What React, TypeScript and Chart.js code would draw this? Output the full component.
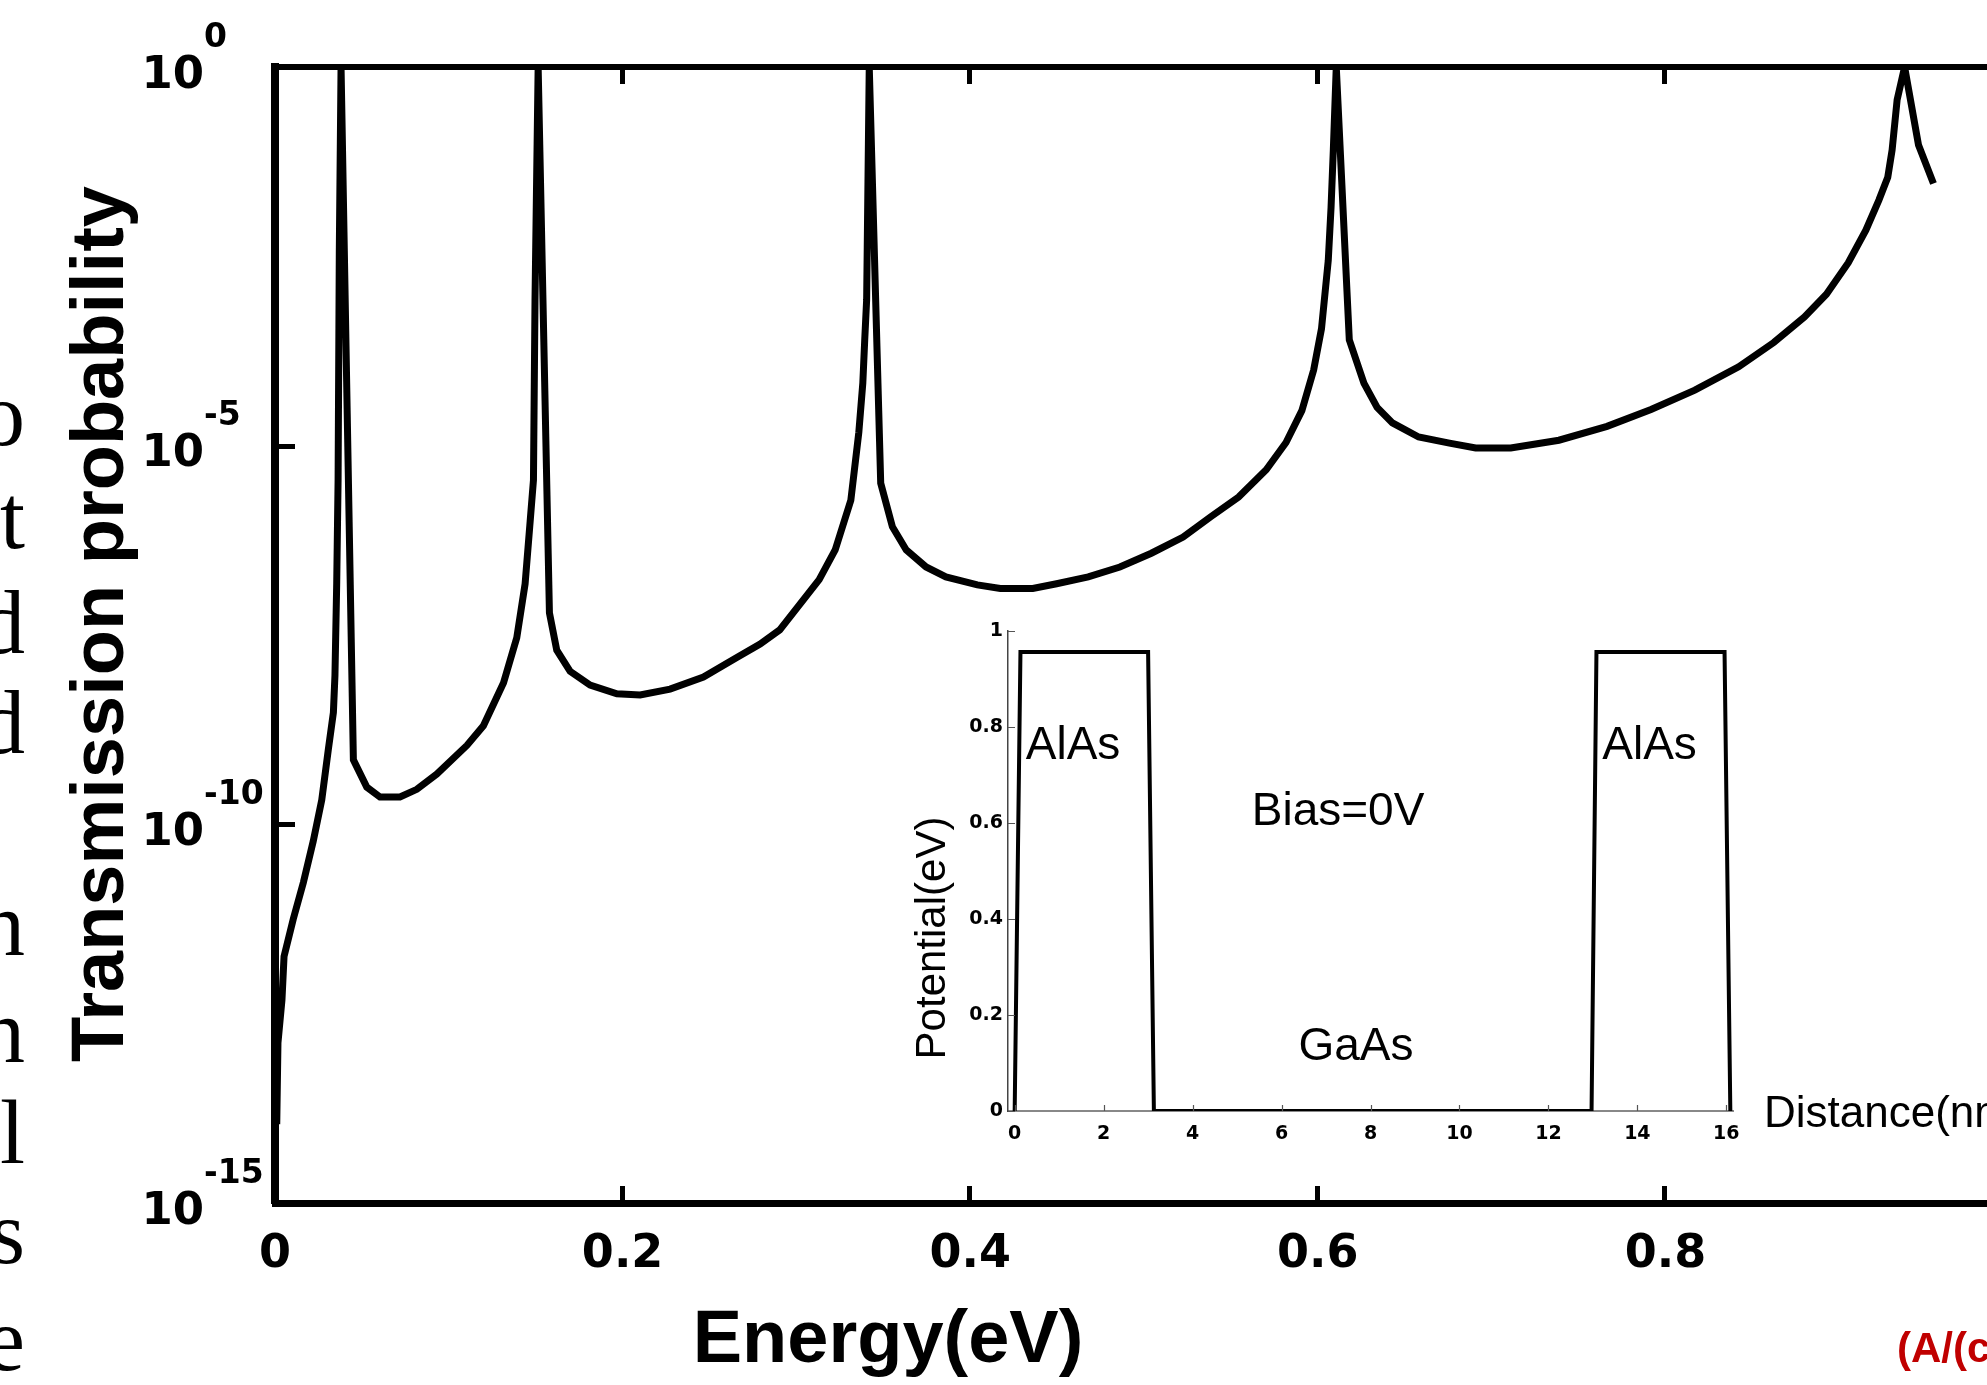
import React, { useEffect, useRef } from 'react';
import { Chart, registerables } from 'chart.js';

Chart.register(...registerables);

// Transmission probability of an AlAs/GaAs/AlAs double barrier at zero bias
const energyEV = [
  0.0010, 0.0017, 0.0040, 0.0052, 0.0105, 0.0163, 0.0220, 0.0269, 0.0307, 0.0336,
  0.0345, 0.0355, 0.0363, 0.0370, 0.0380, 0.0451,
  0.0528, 0.0604, 0.0719, 0.0816, 0.0931, 0.1104, 0.1199, 0.1315, 0.1391, 0.1439,
  0.1468, 0.1487, 0.1496, 0.1514, 0.1579,
  0.1621, 0.1698, 0.1813, 0.1967, 0.2101, 0.2273, 0.2465, 0.2657, 0.2791, 0.2904,
  0.3131, 0.3223, 0.3313, 0.3359, 0.3382, 0.3393, 0.3404, 0.3419, 0.3485,
  0.3552, 0.3632, 0.3746, 0.3860, 0.4041, 0.4173, 0.4360, 0.4497, 0.4679, 0.4861,
  0.5042, 0.5225, 0.5384, 0.5544, 0.5703, 0.5817, 0.5908, 0.5976, 0.6021, 0.6060,
  0.6076, 0.6089, 0.6106, 0.6181,
  0.6265, 0.6341, 0.6429, 0.6580, 0.6757, 0.6908, 0.7110, 0.7387, 0.7664, 0.7917,
  0.8169, 0.8421, 0.8623, 0.8800, 0.8926, 0.9052, 0.9153, 0.9228, 0.9279, 0.9304,
  0.9333, 0.9376, 0.9456, 0.9542,
];
const transmission = [
  1.1e-14, 1.3e-13, 4.8e-13, 1.8e-12, 5.6e-12, 1.7e-11, 6.0e-11, 2.1e-10, 9.8e-10, 3.0e-9,
  9.3e-9, 1.5e-7, 3.5e-6, 3.8e-3, 1, 7.1e-10,
  3.1e-10, 2.3e-10, 2.3e-10, 2.9e-10, 4.6e-10, 1.1e-9, 2.0e-9, 7.4e-9, 2.9e-8, 1.5e-7,
  1.0e-6, 3.5e-6, 8.4e-4, 1, 6.2e-8,
  2.0e-8, 1.05e-8, 6.9e-9, 5.3e-9, 5.1e-9, 6.1e-9, 8.8e-9, 1.6e-8, 2.4e-8, 3.7e-8,
  1.7e-7, 4.2e-7, 1.9e-6, 1.5e-5, 6.7e-5, 2.5e-4, 8.4e-4, 1, 3.2e-6,
  8.5e-7, 4.2e-7, 2.5e-7, 1.85e-7, 1.45e-7, 1.3e-7, 1.3e-7, 1.5e-7, 1.85e-7, 2.5e-7,
  3.8e-7, 6.2e-7, 1.15e-6, 2.1e-6, 4.8e-6, 1.1e-5, 2.9e-5, 1.0e-4, 3.5e-4, 2.8e-3,
  1.4e-2, 8.0e-2, 1, 2.5e-4,
  6.7e-5, 3.2e-5, 2.0e-5, 1.3e-5, 1.08e-5, 9.3e-6, 9.3e-6, 1.18e-5, 1.8e-5, 3.0e-5,
  5.4e-5, 1.1e-4, 2.3e-4, 5.0e-4, 1.0e-3, 2.6e-3, 7.0e-3, 1.75e-2, 3.5e-2, 8.0e-2,
  0.37, 1, 9.3e-2, 2.9e-2,
];
const energyTicks = [0, 0.2, 0.4, 0.6, 0.8];
const transmissionDecades = [1e-15, 1e-10, 1e-5, 1];
const energyMin = 0;
const energyMax = 0.985;

// Conduction-band profile (inset)
const distanceNm = [0, 0.13, 3.0, 3.13, 12.97, 13.08, 15.96, 16.09];
const potentialEV = [0, 0.956, 0.956, 0, 0, 0.956, 0.956, 0];
const distanceTicks = [0, 2, 4, 6, 8, 10, 12, 14, 16];
const potentialTicks = [0, 0.2, 0.4, 0.6, 0.8, 1];
const layerNames = ['AlAs', 'Bias=0V', 'AlAs', 'GaAs'];
const layerNameX = [0.25, 5.33, 13.21, 6.38];
const layerNameY = [0.733, 0.596, 0.733, 0.106];

// Right-hand ends of the neighbouring text column
const marginLetters = ['o', 't', 'd', 'd', 'n', 'n', 'l', 's', 'e'];
const marginBaselines = [445, 548, 653, 753, 955, 1062, 1163, 1263, 1370];

const W = 1987;
const H = 1385;
const BOLD_TICK = "'DejaVu Sans', Verdana, sans-serif";
const SANS = "'Liberation Sans', Arial, sans-serif";

const mainDecor = {
  id: 'mainDecor',
  afterDraw(chart: any) {
    const { ctx, chartArea: a, scales } = chart;
    const x = scales.x;
    const y = scales.y;
    ctx.save();
    ctx.fillStyle = '#000';
    // upper frame line
    ctx.fillRect(a.left - 4, a.top - 3, a.right - a.left + 4, 6);
    // inward tick marks
    energyTicks.forEach((v) => {
      if (v <= x.min) return;
      const px = Math.round(x.getPixelForValue(v));
      ctx.fillRect(px - 3, a.top, 5, 17);
      ctx.fillRect(px - 3, a.bottom - 17, 5, 17);
    });
    transmissionDecades.forEach((v) => {
      if (v <= y.min || v >= y.max) return;
      const py = Math.round(y.getPixelForValue(v));
      ctx.fillRect(a.left, py - 2, 20, 5);
    });
    // decade exponents next to the "10" labels
    ctx.font = `bold 33px ${BOLD_TICK}`;
    ctx.textAlign = 'left';
    ctx.textBaseline = 'middle';
    transmissionDecades.forEach((v) => {
      const py = y.getPixelForValue(v);
      ctx.fillText(String(Math.round(Math.log10(v))), a.left - 71, py - 29);
    });
    // axis titles
    ctx.font = `bold 74px ${SANS}`;
    ctx.textAlign = 'center';
    ctx.textBaseline = 'alphabetic';
    ctx.fillText('Energy(eV)', 888, 1362);
    ctx.save();
    ctx.translate(123, 624);
    ctx.rotate(-Math.PI / 2);
    ctx.fillText('Transmission probability', 0, 0);
    ctx.restore();
    // unit caption at the lower right
    ctx.fillStyle = '#c00000';
    ctx.font = `bold 42px ${SANS}`;
    ctx.textAlign = 'left';
    ctx.fillText('(A/(cm\u00b2))', 1897, 1362);
    // neighbouring text column
    ctx.fillStyle = '#000';
    ctx.font = "90px 'Liberation Serif', 'Times New Roman', serif";
    ctx.textAlign = 'right';
    marginLetters.forEach((ch, i) => ctx.fillText(ch, 25, marginBaselines[i]));
    ctx.restore();
  },
};

const insetDecor = {
  id: 'insetDecor',
  afterDraw(chart: any) {
    const { ctx, chartArea: a, scales } = chart;
    const x = scales.x;
    const y = scales.y;
    ctx.save();
    ctx.strokeStyle = '#555';
    ctx.lineWidth = 1.2;
    ctx.beginPath();
    distanceTicks.forEach((v) => {
      const px = Math.round(x.getPixelForValue(v)) + 0.5;
      ctx.moveTo(px, a.bottom);
      ctx.lineTo(px, a.bottom - 6);
    });
    potentialTicks.forEach((v) => {
      const py = Math.round(y.getPixelForValue(v)) + 0.5;
      ctx.moveTo(a.left, py);
      ctx.lineTo(a.left + 7, py);
    });
    ctx.stroke();
    ctx.fillStyle = '#000';
    ctx.font = `46px ${SANS}`;
    ctx.textAlign = 'left';
    ctx.textBaseline = 'alphabetic';
    layerNames.forEach((t, i) => {
      ctx.fillText(t, x.getPixelForValue(layerNameX[i]), y.getPixelForValue(layerNameY[i]));
    });
    ctx.font = `44px ${SANS}`;
    ctx.fillText('Distance(nm)', a.right + 31, a.bottom + 16);
    ctx.font = `42px ${SANS}`;
    ctx.save();
    ctx.translate(a.left - 63, 938);
    ctx.rotate(-Math.PI / 2);
    ctx.textAlign = 'center';
    ctx.fillText('Potential(eV)', 0, 0);
    ctx.restore();
    ctx.restore();
  },
};

// keep tick-label overflow from shifting the plot area
const noEdgePadding = (s: any) => {
  s.paddingTop = 0;
  s.paddingBottom = 0;
  s.paddingLeft = 0;
  s.paddingRight = 0;
};

export default function App() {
  const mainRef = useRef<HTMLCanvasElement | null>(null);
  const insetRef = useRef<HTMLCanvasElement | null>(null);

  useEffect(() => {
    document.body.style.margin = '0';
    document.body.style.overflow = 'hidden';
    if (!mainRef.current || !insetRef.current) return;

    const main = new Chart(mainRef.current, {
      type: 'line',
      data: {
        datasets: [
          {
            data: energyEV.map((e, i) => ({ x: e, y: transmission[i] })),
            borderColor: '#000',
            borderWidth: 7,
            pointRadius: 0,
            tension: 0,
            fill: false,
            clip: 0,
            borderJoinStyle: 'miter',
            borderCapStyle: 'butt',
          } as any,
        ],
      },
      options: {
        responsive: false,
        animation: false,
        devicePixelRatio: 1,
        events: [],
        layout: { padding: { left: 0, top: 67, right: 0, bottom: 0 } },
        plugins: { legend: { display: false }, tooltip: { enabled: false } },
        scales: {
          x: {
            type: 'linear',
            min: energyMin,
            max: energyMax,
            afterBuildTicks: (s: any) => {
              s.ticks = energyTicks.map((v) => ({ value: v }));
            },
            afterFit: (s: any) => {
              s.height = 182;
              noEdgePadding(s);
            },
            grid: { display: false, drawTicks: false },
            border: { display: true, color: '#000', width: 7 },
            ticks: {
              padding: 24,
              color: '#000',
              autoSkip: false,
              maxRotation: 0,
              font: { family: BOLD_TICK, weight: 'bold', size: 46 },
              callback: (v: any) => String(Number(v)),
            },
          },
          y: {
            type: 'logarithmic',
            min: transmissionDecades[0],
            max: transmissionDecades[transmissionDecades.length - 1],
            afterBuildTicks: (s: any) => {
              s.ticks = transmissionDecades.map((v) => ({ value: v }));
            },
            afterFit: (s: any) => {
              s.width = 275;
              noEdgePadding(s);
            },
            grid: { display: false, drawTicks: false },
            border: { display: true, color: '#000', width: 8 },
            ticks: {
              padding: 71,
              labelOffset: 9,
              color: '#000',
              autoSkip: false,
              font: { family: BOLD_TICK, weight: 'bold', size: 45 },
              callback: () => '10',
            },
          },
        },
      } as any,
      plugins: [mainDecor],
    });

    const inset = new Chart(insetRef.current, {
      type: 'line',
      data: {
        datasets: [
          {
            data: distanceNm.map((d, i) => ({ x: d, y: potentialEV[i] })),
            borderColor: '#000',
            borderWidth: 4,
            pointRadius: 0,
            tension: 0,
            fill: false,
            borderJoinStyle: 'miter',
            borderCapStyle: 'butt',
          } as any,
        ],
      },
      options: {
        responsive: false,
        animation: false,
        devicePixelRatio: 1,
        events: [],
        layout: { padding: { left: 948, top: 631, right: 254, bottom: 234 } },
        plugins: { legend: { display: false }, tooltip: { enabled: false } },
        scales: {
          x: {
            type: 'linear',
            min: -0.15,
            max: 16.15,
            afterBuildTicks: (s: any) => {
              s.ticks = distanceTicks.map((v) => ({ value: v }));
            },
            afterFit: (s: any) => {
              s.height = 40;
              noEdgePadding(s);
            },
            grid: { display: false, drawTicks: false },
            border: { display: true, color: '#888', width: 2 },
            ticks: {
              padding: 12,
              color: '#000',
              autoSkip: false,
              maxRotation: 0,
              font: { family: BOLD_TICK, weight: 'bold', size: 19 },
              callback: (v: any) => String(Number(v)),
            },
          },
          y: {
            type: 'linear',
            min: 0,
            max: 1,
            afterBuildTicks: (s: any) => {
              s.ticks = potentialTicks.map((v) => ({ value: v }));
            },
            afterFit: (s: any) => {
              s.width = 60;
              noEdgePadding(s);
            },
            grid: { display: false, drawTicks: false },
            border: { display: true, color: '#444', width: 1.5 },
            ticks: {
              padding: 5,
              color: '#000',
              autoSkip: false,
              font: { family: BOLD_TICK, weight: 'bold', size: 19 },
              callback: (v: any) => String(Number(v)),
            },
          },
        },
      } as any,
      plugins: [insetDecor],
    });

    return () => {
      main.destroy();
      inset.destroy();
    };
  }, []);

  return (
    <div
      style={{
        position: 'fixed',
        left: 0,
        top: 0,
        width: W,
        height: H,
        overflow: 'hidden',
        background: '#fff',
      }}
    >
      <canvas ref={mainRef} width={W} height={H} style={{ position: 'absolute', left: 0, top: 0 }} />
      <canvas ref={insetRef} width={W} height={H} style={{ position: 'absolute', left: 0, top: 0 }} />
    </div>
  );
}
